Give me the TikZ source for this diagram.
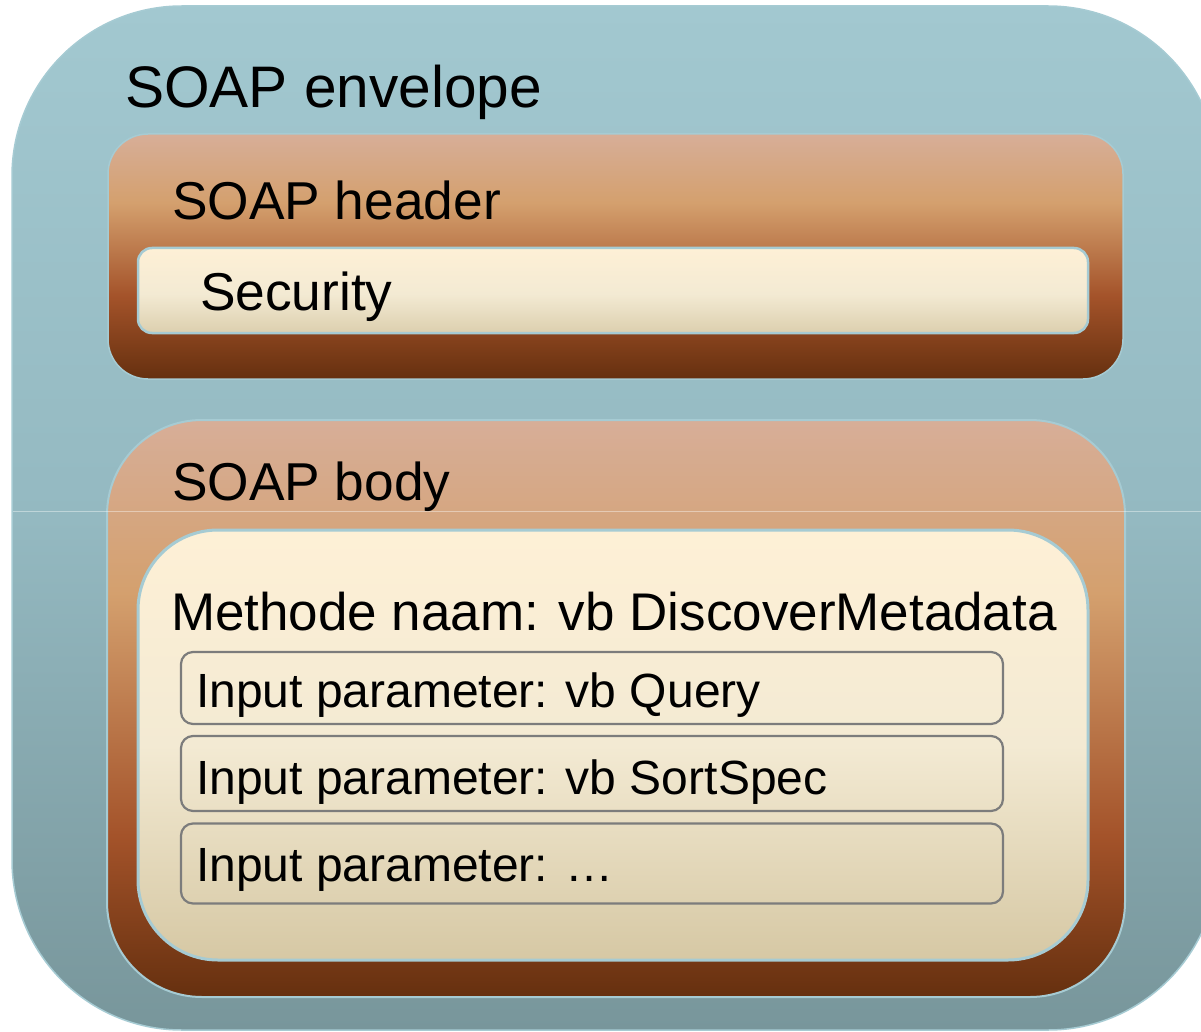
\documentclass[tikz,border=0pt]{standalone}
\usepackage{fontspec}
\setmainfont{Liberation Sans}
\definecolor{envA}{HTML}{A2C8D0}
\definecolor{envB}{HTML}{94B9C1}
\definecolor{envC}{HTML}{78969B}
\definecolor{brA}{HTML}{D7AE98}
\definecolor{brB}{HTML}{D4A06E}
\definecolor{brC}{HTML}{A4532A}
\definecolor{brD}{HTML}{66300F}
\definecolor{crA}{HTML}{FEF0D6}
\definecolor{crB}{HTML}{F3EAD3}
\definecolor{crC}{HTML}{D6C8A4}
\definecolor{scC}{HTML}{DCCFAE}
\definecolor{edge}{HTML}{A6CBD3}
\definecolor{pgray}{HTML}{7C7C7C}
\pgfdeclareverticalshading{envshade}{100bp}{color(0bp)=(envC); color(25bp)=(envC); color(50bp)=(envB); color(75bp)=(envA); color(100bp)=(envA)}
\pgfdeclareverticalshading{hdrshade}{100bp}{color(0bp)=(brD); color(25bp)=(brD); color(42bp)=(brC); color(61bp)=(brB); color(75bp)=(brA); color(100bp)=(brA)}
\pgfdeclareverticalshading{bodyshade}{100bp}{color(0bp)=(brD); color(25bp)=(brD); color(39bp)=(brC); color(60bp)=(brB); color(75bp)=(brA); color(100bp)=(brA)}
\pgfdeclareverticalshading{creamshade}{100bp}{color(0bp)=(crC); color(25bp)=(crC); color(50bp)=(crB); color(75bp)=(crA); color(100bp)=(crA)}
\pgfdeclareverticalshading{secshade}{100bp}{color(0bp)=(scC); color(25bp)=(scC); color(48bp)=(crB); color(75bp)=(crA); color(100bp)=(crA)}
\begin{document}
\begin{tikzpicture}[x=1pt,y=-1pt,
  box/.style={rectangle, inner sep=0pt, outer sep=0pt},
  lbl/.style={inner sep=0pt, outer sep=0pt, anchor=base west, text=black},
  bigfont/.style={font=\fontsize{58.6}{66}\selectfont},
  midfont/.style={font=\fontsize{53.3}{60}\selectfont},
  methfont/.style={font=\fontsize{53}{60}\selectfont},
  parfont/.style={font=\fontsize{48}{56}\selectfont},
  parbox/.style={box, draw=pgray, line width=2.2pt, rounded corners=12pt, minimum width=822pt}
]
\useasboundingbox (0,0) rectangle (1201,1032);
\clip (0,0) rectangle (1201,1032);
\fill[white] (0,0) rectangle (1201,1032);
% envelope
\node[box, shading=envshade, draw=edge, line width=1.5pt, rounded corners=170pt,
  minimum width=1206pt, minimum height=1024pt] (env) at (615,518) {};
% header
\node[box, shading=hdrshade, draw=edge, line width=1.5pt, rounded corners=40pt,
  minimum width=1015pt, minimum height=245pt] (hdr) at (615.5,256.5) {};
\node[box, shading=secshade, draw=edge, line width=2.5pt, rounded corners=14pt,
  minimum width=950pt, minimum height=85pt] (sec) at (613,290.5) {};
% body
\node[box, shading=bodyshade, draw=edge, line width=2pt, rounded corners=95pt,
  minimum width=1018pt, minimum height=577pt] (body) at (616,708.5) {};
\node[box, shading=creamshade, draw=edge, line width=3pt, rounded corners=80pt,
  minimum width=950pt, minimum height=430pt] (meth) at (613,745) {};
% parameter boxes
\node[parbox, minimum height=72pt] (p1) at (592,688) {};
\node[parbox, minimum height=75pt] (p2) at (592,773.5) {};
\node[parbox, minimum height=80pt] (p3) at (592,863.5) {};
% seam line
\coordinate (seamL) at (13,511);
\coordinate (seamR) at (1201,511);
\draw[white, opacity=0.4, line width=1pt] (seamL) -- (seamR);
% labels
\node[lbl, bigfont] (tenv) at (125,108) {SOAP envelope};
\node[lbl, midfont] (thdr) at (172,220) {SOAP header};
\node[lbl, midfont] (tsec) at (200,310) {Security};
\node[lbl, midfont] (tbody) at (172,500) {SOAP body};
\node[lbl, methfont] (tmeth) at (171,630) {Methode naam: vb DiscoverMetadata};
\node[lbl, parfont] (tp1) at (196,707) {Input parameter: vb Query};
\node[lbl, parfont] (tp2) at (196,794) {Input parameter: vb SortSpec};
\node[lbl, parfont] (tp3) at (196,881) {Input parameter: …};
\end{tikzpicture}
\end{document}
